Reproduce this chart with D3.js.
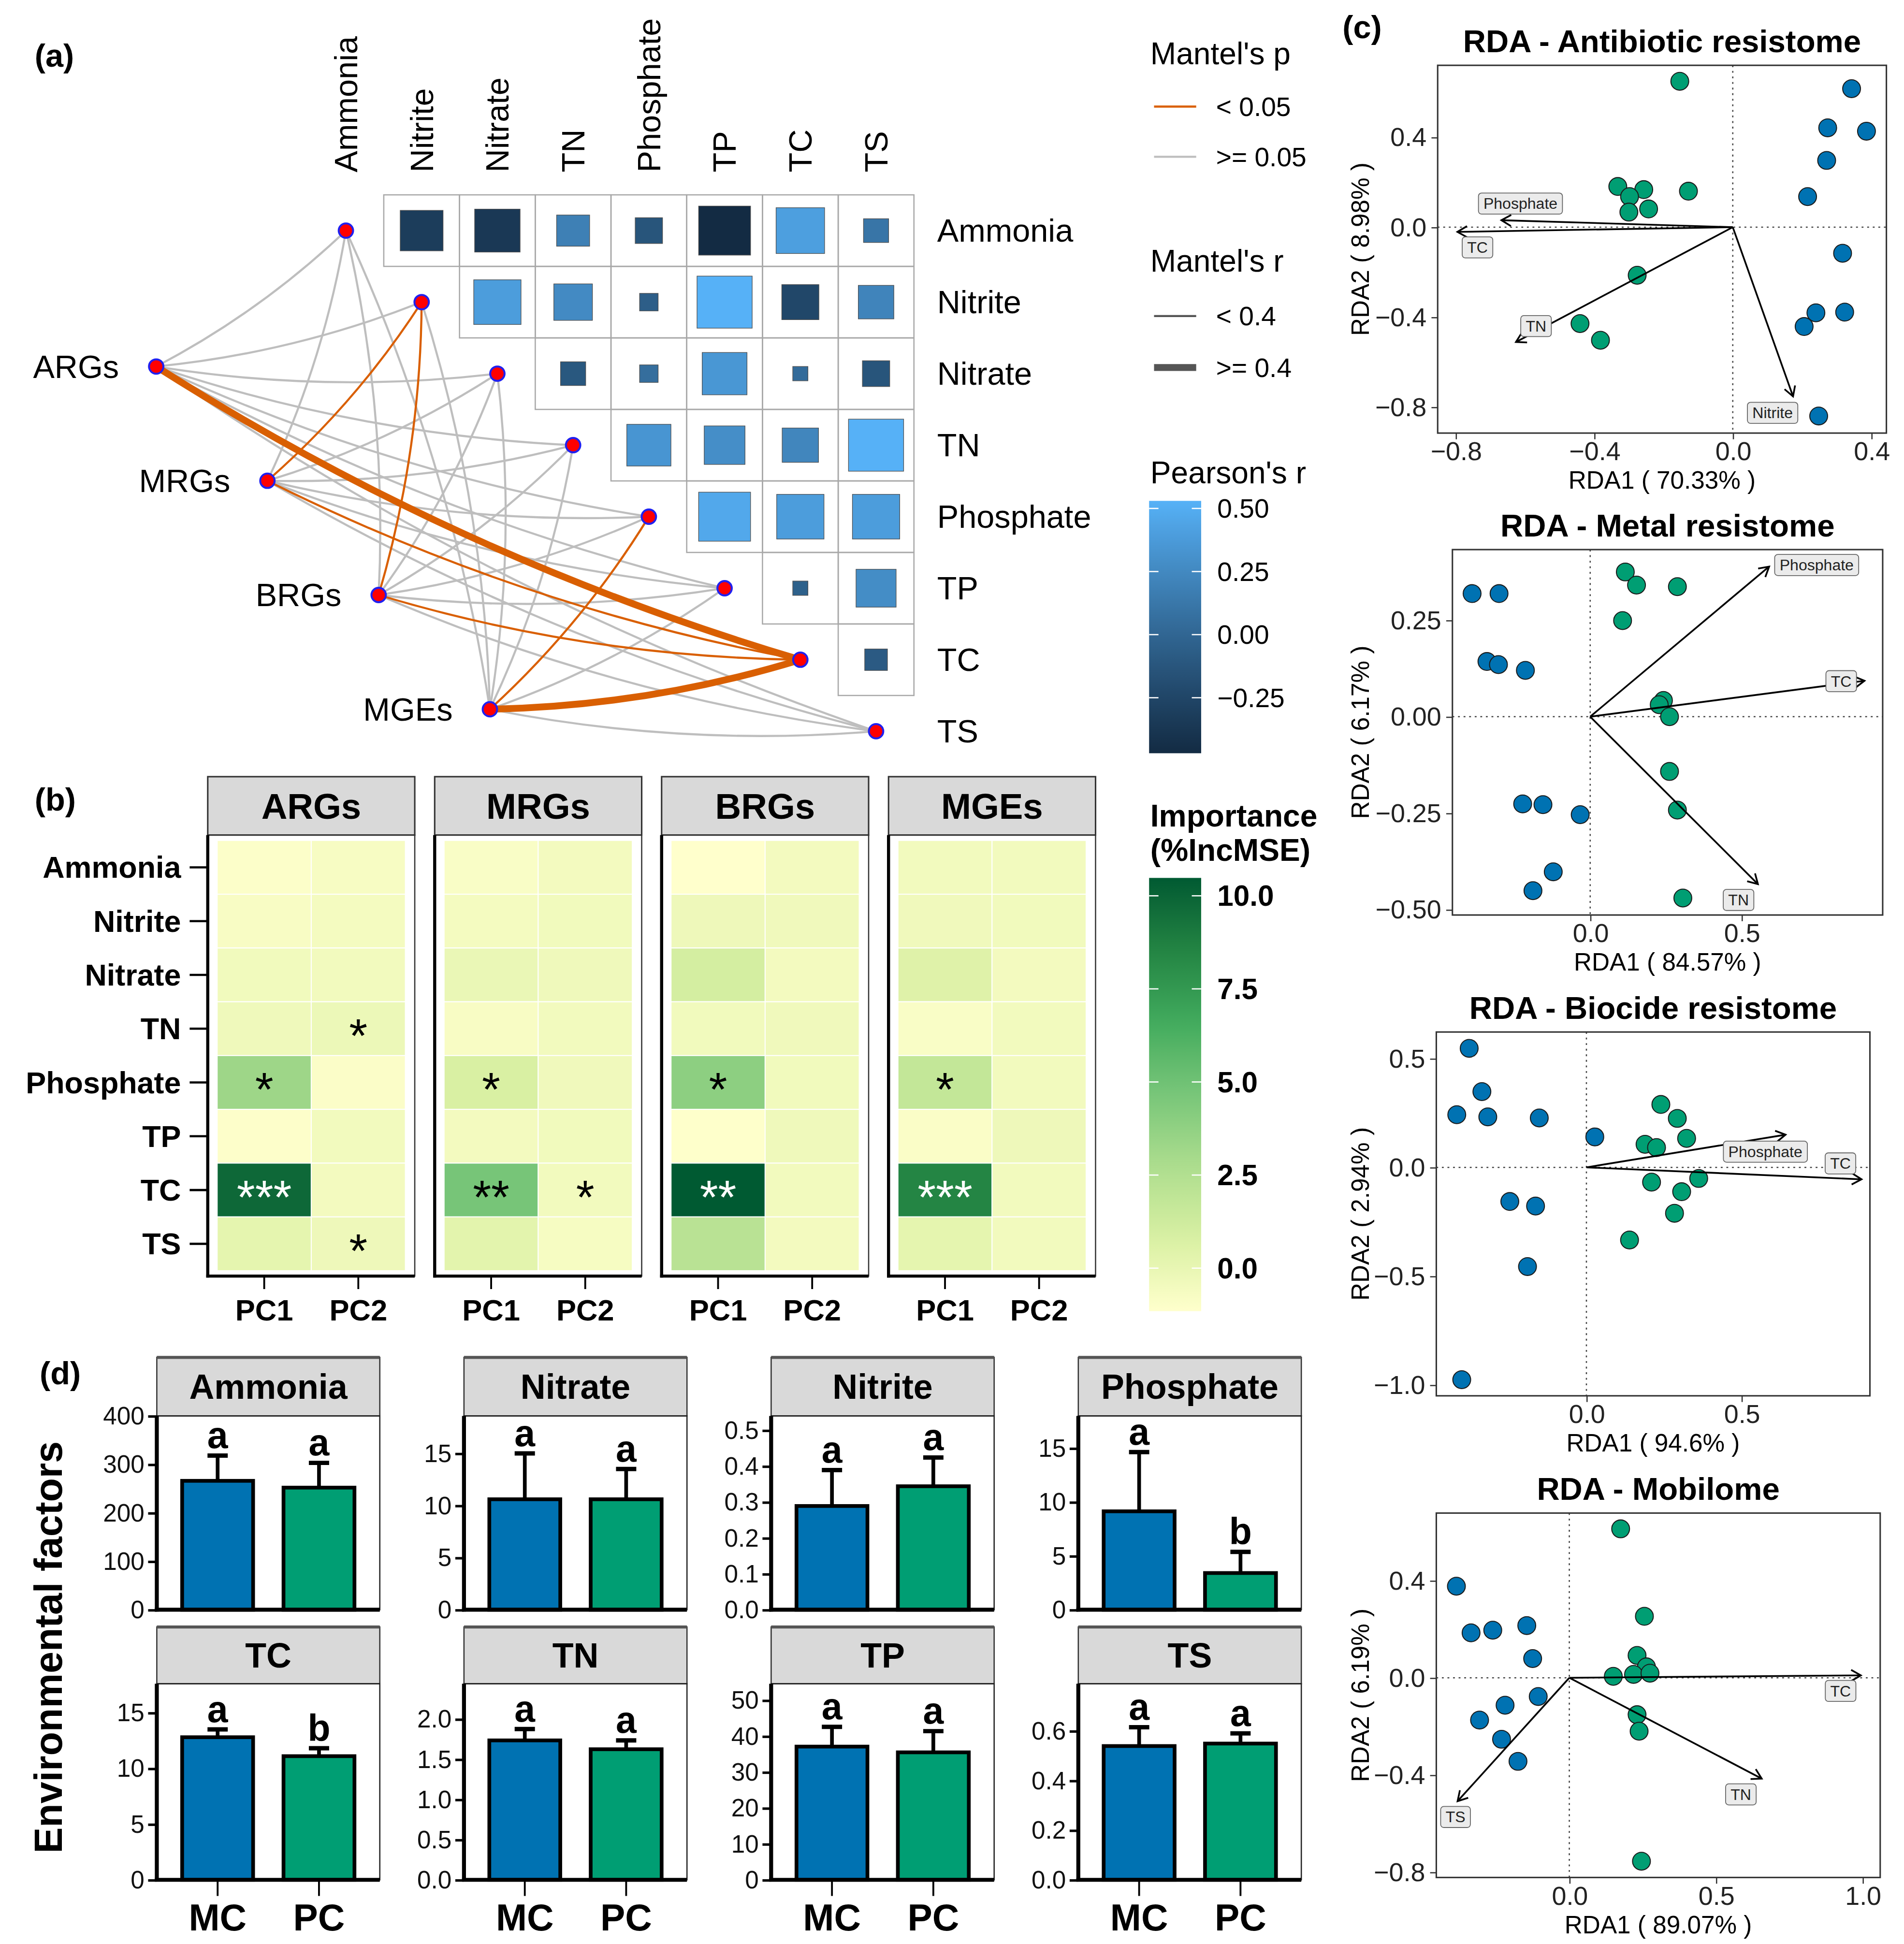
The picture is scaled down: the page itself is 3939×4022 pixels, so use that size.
<!DOCTYPE html>
<html>
<head>
<meta charset="utf-8">
<script src="https://cdn.jsdelivr.net/npm/d3@7"></script>
<style>
html, body { margin: 0; padding: 0; background: #fff; }
svg text { font-family: "Liberation Sans", Arial, Helvetica, sans-serif; }
</style>
</head>
<body>
<svg id="fig"></svg>
<script>
// ---------- data ----------
const envVars = ["Ammonia", "Nitrite", "Nitrate", "TN", "Phosphate", "TP", "TC", "TS"];

// Pearson's r, upper triangle (row i, columns i+1 .. 7)
const pearsonR = [
  [-0.32, -0.36, 0.19, -0.13, -0.47, 0.41, 0.11],
  [0.39, 0.26, -0.06, 0.53, -0.24, 0.22],
  [-0.11, 0.06, 0.35, 0.04, -0.13],
  [0.34, 0.29, 0.23, 0.53],
  [0.47, 0.39, 0.39],
  [-0.04, 0.28],
  [-0.09]
];
const pearsonTicks = [0.5, 0.25, 0, -0.25];

const groups = ["ARGs", "MRGs", "BRGs", "MGEs"];
const mantelR = [
  [0.12, 0.15, 0.10, 0.18, 0.25, 0.08, 0.52, 0.20],
  [0.10, 0.32, 0.14, 0.12, 0.22, 0.09, 0.35, 0.16],
  [0.08, 0.30, 0.20, 0.11, 0.26, 0.13, 0.33, 0.24],
  [0.09, 0.07, 0.12, 0.15, 0.31, 0.18, 0.55, 0.21]
];
const mantelP = [
  [0.41, 0.22, 0.35, 0.18, 0.09, 0.56, 0.001, 0.12],
  [0.52, 0.03, 0.28, 0.33, 0.07, 0.61, 0.01, 0.19],
  [0.63, 0.04, 0.11, 0.38, 0.06, 0.29, 0.02, 0.08],
  [0.57, 0.66, 0.31, 0.24, 0.04, 0.15, 0.001, 0.10]
];

// random forest importance (%IncMSE): [PC1 values, PC2 values] in envVars order
const pcs = ["PC1", "PC2"];
const impARGs = [[-1.0, -0.8, -0.45, -0.35, 3.3, -1.05, 9.8, 0.2], [-0.75, -0.6, -0.5, -0.2, -0.95, -0.5, -0.55, -0.3]];
const impMRGs = [[-0.85, -0.6, -0.1, -0.8, 0.8, -0.55, 4.7, 0.3], [-0.55, -0.45, -0.35, -0.5, -0.4, -0.45, -0.5, -0.7]];
const impBRGs = [[-1.15, -0.3, 1.0, -0.45, 3.9, -1.1, 10.48, 2.2], [-0.55, -0.4, -0.55, -0.4, -0.45, -0.35, -0.5, -0.55]];
const impMGEs = [[-0.5, -0.4, 0.5, -0.85, 1.75, -0.9, 8.5, 0.2], [-0.5, -0.45, -0.55, -0.5, -0.5, -0.3, -0.5, -0.5]];
const sigARGs = [["", "", "", "", "*", "", "***", ""], ["", "", "", "*", "", "", "", "*"]];
const sigMRGs = [["", "", "", "", "*", "", "**", ""], ["", "", "", "", "", "", "*", ""]];
const sigBRGs = [["", "", "", "", "*", "", "**", ""], ["", "", "", "", "", "", "", ""]];
const sigMGEs = [["", "", "", "", "*", "", "***", ""], ["", "", "", "", "", "", "", ""]];
const impTicks = [10, 7.5, 5, 2.5, 0];

// RDA
const rdaTitles = ["RDA - Antibiotic resistome", "RDA - Metal resistome", "RDA - Biocide resistome", "RDA - Mobilome"];
const rdaXLab = ["RDA1 ( 70.33% )", "RDA1 ( 84.57% )", "RDA1 ( 94.6% )", "RDA1 ( 89.07% )"];
const rdaYLab = ["RDA2 ( 8.98% )", "RDA2 ( 6.17% )", "RDA2 ( 2.94% )", "RDA2 ( 6.19% )"];
const rdaXDomain = [[-0.852, 0.4435], [-0.455, 0.966], [-0.484, 0.914], [-0.4535, 1.06]];
const rdaYDomain = [[-0.916, 0.72], [-0.514, 0.433], [-1.05, 0.622], [-0.822, 0.678]];
const rdaXTicks = [[-0.8, -0.4, 0, 0.4], [0, 0.5], [0, 0.5], [0, 0.5, 1]];
const rdaYTicks = [[-0.8, -0.4, 0, 0.4], [-0.5, -0.25, 0, 0.25], [-1, -0.5, 0, 0.5], [-0.8, -0.4, 0, 0.4]];
const rdaYFormat = [".1f", ".2f", ".1f", ".1f"];

const antibioticMC = [[0.343, 0.616], [0.274, 0.442], [0.386, 0.427], [0.271, 0.297], [0.216, 0.136], [0.317, -0.116], [0.240, -0.381], [0.323, -0.378], [0.206, -0.442], [0.248, -0.840]];
const antibioticPC = [[-0.153, 0.649], [-0.332, 0.181], [-0.257, 0.167], [-0.298, 0.136], [-0.243, 0.081], [-0.300, 0.067], [-0.128, 0.160], [-0.276, -0.214], [-0.441, -0.429], [-0.382, -0.503]];
const antibioticEnv = [["Phosphate", -0.668, 0.031, -0.613, 0.105], ["TC", -0.795, -0.021, -0.737, -0.090], ["TN", -0.626, -0.511, -0.568, -0.440], ["Nitrite", 0.174, -0.753, 0.115, -0.826]];

const metalMC = [[-0.390, 0.319], [-0.301, 0.319], [-0.341, 0.143], [-0.303, 0.135], [-0.214, 0.120], [-0.223, -0.226], [-0.156, -0.228], [-0.033, -0.254], [-0.122, -0.402], [-0.189, -0.451]];
const metalPC = [[0.116, 0.375], [0.153, 0.341], [0.288, 0.337], [0.107, 0.249], [0.242, 0.042], [0.228, 0.031], [0.262, 0.0], [0.262, -0.142], [0.288, -0.242], [0.306, -0.470]];
const metalEnv = [["Phosphate", 0.591, 0.389, 0.748, 0.393], ["TC", 0.906, 0.093, 0.829, 0.092], ["TN", 0.554, -0.434, 0.490, -0.475]];

const biocideMC = [[-0.378, 0.547], [-0.337, 0.348], [-0.418, 0.242], [-0.318, 0.232], [-0.152, 0.227], [0.027, 0.140], [-0.247, -0.157], [-0.164, -0.178], [-0.190, -0.456], [-0.402, -0.976]];
const biocidePC = [[0.240, 0.289], [0.293, 0.225], [0.323, 0.133], [0.189, 0.106], [0.226, 0.091], [0.362, -0.051], [0.210, -0.068], [0.307, -0.112], [0.284, -0.211], [0.139, -0.334]];
const biocideEnv = [["Phosphate", 0.642, 0.150, 0.577, 0.072], ["TC", 0.887, -0.055, 0.819, 0.018]];

const mobilomeMC = [[-0.385, 0.377], [-0.335, 0.185], [-0.261, 0.196], [-0.145, 0.215], [-0.125, 0.079], [-0.106, -0.077], [-0.219, -0.113], [-0.306, -0.174], [-0.231, -0.253], [-0.175, -0.344]];
const mobilomePC = [[0.175, 0.613], [0.256, 0.253], [0.231, 0.092], [0.263, 0.045], [0.150, 0.006], [0.219, 0.014], [0.275, 0.019], [0.231, -0.152], [0.238, -0.220], [0.246, -0.755]];
const mobilomeEnv = [["TC", 0.994, 0.010, 0.925, -0.054], ["TN", 0.656, -0.415, 0.585, -0.480], ["TS", -0.381, -0.508, -0.388, -0.573]];

// bar plots (d)
const treatments = ["MC", "PC"];
const barPanels = ["Ammonia", "Nitrate", "Nitrite", "Phosphate", "TC", "TN", "TP", "TS"];
const meanMC = [266, 10.6, 0.289, 9.14, 12.8, 1.735, 37.1, 0.539];
const sdMC = [52, 4.4, 0.100, 5.5, 0.70, 0.142, 5.5, 0.076];
const meanPC = [252, 10.6, 0.344, 3.41, 11.1, 1.625, 35.5, 0.549];
const sdPC = [51, 2.9, 0.080, 1.96, 0.71, 0.110, 5.9, 0.041];
const letterMC = ["a", "a", "a", "a", "a", "a", "a", "a"];
const letterPC = ["a", "a", "a", "b", "b", "a", "a", "a"];
const barYMax = [400, 18.6, 0.54, 18.0, 17.6, 2.44, 54.6, 0.79];
const barTickLabels = [
  ["0", "100", "200", "300", "400"],
  ["0", "5", "10", "15"],
  ["0.0", "0.1", "0.2", "0.3", "0.4", "0.5"],
  ["0", "5", "10", "15"],
  ["0", "5", "10", "15"],
  ["0.0", "0.5", "1.0", "1.5", "2.0"],
  ["0", "10", "20", "30", "40", "50"],
  ["0.0", "0.2", "0.4", "0.6"]
];

// ---------- setup ----------
const W = 3939, H = 4022, K = W / 1536, VH = H / K;
const svg = d3.select('#fig').attr('width', W).attr('height', H).attr('viewBox', `0 0 1536 ${VH}`);
svg.append('rect').attr('width', 1536).attr('height', VH).attr('fill', '#fff');
const defs = svg.append('defs');
const colMC = '#0072B2', colPC = '#009E73';

function label(x, y, txt, size, opts = {}) {
  const t = svg.append('text').attr('x', x).attr('y', y).attr('font-size', size).text(txt);
  if (opts.bold) t.attr('font-weight', 'bold');
  if (opts.anchor) t.attr('text-anchor', opts.anchor);
  if (opts.mid) t.attr('dy', '0.35em');
  if (opts.fill) t.attr('fill', opts.fill);
  return t;
}

function colorBar(id, scale, dom, x, w, yScale, ticks, fmt, bold) {
  const lg = defs.append('linearGradient').attr('id', id).attr('x1', 0).attr('x2', 0).attr('y1', 1).attr('y2', 0);
  d3.range(0, 1.0001, 0.05).forEach(t => lg.append('stop').attr('offset', t).attr('stop-color', scale(dom[0] + t * (dom[1] - dom[0]))));
  svg.append('rect').attr('x', x).attr('y', yScale(dom[1])).attr('width', w).attr('height', yScale(dom[0]) - yScale(dom[1])).attr('fill', `url(#${id})`);
  ticks.forEach(v => {
    const y = yScale(v);
    svg.append('line').attr('x1', x).attr('x2', x + w * 0.18).attr('y1', y).attr('y2', y).attr('stroke', '#fff').attr('stroke-width', 1);
    svg.append('line').attr('x1', x + w * 0.82).attr('x2', x + w).attr('y1', y).attr('y2', y).attr('stroke', '#fff').attr('stroke-width', 1);
    label(x + w + 13, y, fmt(v), bold ? 23.5 : 21.5, { mid: true, bold });
  });
}

// panel tags
label(28, 54, "(a)", 26, { bold: true });
label(28, 654, "(b)", 26, { bold: true });
label(1083, 31, "(c)", 26, { bold: true });
label(32, 1117, "(d)", 26, { bold: true });

// ---------- (a) Mantel network + correlation matrix ----------
const xA = d3.scaleBand().domain(envVars).range([248.5, 737.3]);
const yA = d3.scaleBand().domain(envVars).range([157.2, 618.8]);
const bw = xA.bandwidth(), bh = yA.bandwidth();
const rExt = d3.extent(pearsonR.flat());
const colR = d3.scaleLinear().domain(rExt).range(['#132B43', '#56B1F7']).interpolate(d3.interpolateLab);

pearsonR.forEach((row, i) => row.forEach((r, k) => {
  const j = i + 1 + k;
  const cx = xA(envVars[j]), cy = yA(envVars[i]);
  svg.append('rect').attr('x', cx).attr('y', cy).attr('width', bw).attr('height', bh)
    .attr('fill', 'none').attr('stroke', '#a8a8a8').attr('stroke-width', 1);
  const f = Math.sqrt(Math.abs(r));
  svg.append('rect').attr('x', cx + bw * (1 - f) / 2).attr('y', cy + bh * (1 - f) / 2)
    .attr('width', bw * f).attr('height', bh * f)
    .attr('fill', colR(r)).attr('stroke', '#4d4d4d').attr('stroke-width', 0.5);
}));

envVars.forEach(v => {
  svg.append('text').attr('transform', `translate(${xA(v) + bw / 2},139) rotate(-90)`)
    .attr('dy', '0.35em').attr('font-size', 26).text(v);
  label(756, yA(v) + bh / 2, v, 26, { mid: true });
});

const gx = d3.scalePoint().domain(groups).range([126, 395.2]);
const gy = d3.scalePoint().domain(groups).range([295.7, 572.2]);

const edges = [];
groups.forEach((g, gi) => envVars.forEach((e, ei) => edges.push({ g, e, r: mantelR[gi][ei], p: mantelP[gi][ei] })));
edges.sort((a, b) => (a.p < 0.05) - (b.p < 0.05));
edges.forEach(d => {
  const sx = gx(d.g), sy = gy(d.g), tx = xA(d.e) + bw / 2, ty = yA(d.e) + bh / 2;
  const c = 0.07, qx = (sx + tx) / 2 - c * (ty - sy), qy = (sy + ty) / 2 + c * (tx - sx);
  svg.append('path').attr('d', `M${sx},${sy}Q${qx},${qy} ${tx},${ty}`)
    .attr('fill', 'none').attr('stroke', d.p < 0.05 ? '#D95F02' : '#BEBEBE')
    .attr('stroke-width', d.r >= 0.4 ? 5.5 : 1.7);
});

envVars.forEach(v => {
  svg.append('circle').attr('cx', xA(v) + bw / 2).attr('cy', yA(v) + bh / 2).attr('r', 5.8)
    .attr('fill', '#FF0000').attr('stroke', '#2020F0').attr('stroke-width', 1.6);
});
groups.forEach(g => {
  svg.append('circle').attr('cx', gx(g)).attr('cy', gy(g)).attr('r', 5.8)
    .attr('fill', '#FF0000').attr('stroke', '#2020F0').attr('stroke-width', 1.6);
  label(gx(g) - 30, gy(g), g, 26, { mid: true, anchor: 'end' });
});

// legends (a)
label(928, 52, "Mantel's p", 25);
svg.append('line').attr('x1', 931).attr('x2', 965).attr('y1', 86).attr('y2', 86).attr('stroke', '#D95F02').attr('stroke-width', 1.7);
label(981, 86, "< 0.05", 21.5, { mid: true });
svg.append('line').attr('x1', 931).attr('x2', 965).attr('y1', 126.5).attr('y2', 126.5).attr('stroke', '#BEBEBE').attr('stroke-width', 1.7);
label(981, 126.5, ">= 0.05", 21.5, { mid: true });
label(928, 219, "Mantel's r", 25);
svg.append('line').attr('x1', 931).attr('x2', 965).attr('y1', 255).attr('y2', 255).attr('stroke', '#555').attr('stroke-width', 1.7);
label(981, 255, "< 0.4", 21.5, { mid: true });
svg.append('line').attr('x1', 931).attr('x2', 965).attr('y1', 296.5).attr('y2', 296.5).attr('stroke', '#555').attr('stroke-width', 5.5);
label(981, 296.5, ">= 0.4", 21.5, { mid: true });
label(928, 390, "Pearson's r", 25);
const yPear = d3.scaleLinear().domain([0, 0.5]).range([512, 410.2]);
colorBar('gradR', colR, rExt, 927, 42, yPear, pearsonTicks, d3.format(".2f"), false);

// ---------- (b) random forest heatmaps ----------
const impData = [impARGs, impMRGs, impBRGs, impMGEs];
const sigData = [sigARGs, sigMRGs, sigBRGs, sigMGEs];
const impDom = [-1.155, 10.48];
const ylgn = ["#FFFFCC", "#D9F0A3", "#ADDD8E", "#78C679", "#41AB5D", "#238443", "#005A32"];
const colImp = d3.scaleLinear().domain(d3.range(7).map(i => impDom[0] + i * (impDom[1] - impDom[0]) / 6))
  .range(ylgn).interpolate(d3.interpolateLab);

const yB = d3.scaleBand().domain(envVars).range([673.7, 1029.5]).paddingOuter(0.1);
groups.forEach((g, gi) => {
  const x0 = 167.6 + 183.07 * gi, x1 = x0 + 167;
  const xB = d3.scaleBand().domain(pcs).range([x0, x1]).paddingOuter(0.1);
  svg.append('rect').attr('x', x0).attr('y', 626.6).attr('width', x1 - x0).attr('height', 47.1)
    .attr('fill', '#D9D9D9').attr('stroke', '#333').attr('stroke-width', 1.2);
  label((x0 + x1) / 2, 650.5, g, 29, { bold: true, anchor: 'middle', mid: true });
  pcs.forEach((pc, pi) => envVars.forEach((e, ei) => {
    const v = impData[gi][pi][ei];
    svg.append('rect').attr('x', xB(pc)).attr('y', yB(e)).attr('width', xB.bandwidth()).attr('height', yB.bandwidth())
      .attr('fill', colImp(v)).attr('stroke', '#fff').attr('stroke-width', 0.8);
    const s = sigData[gi][pi][ei];
    if (s) {
      svg.append('text').attr('x', xB(pc) + xB.bandwidth() / 2).attr('y', yB(e) + yB.bandwidth() / 2 + 19)
        .attr('text-anchor', 'middle').attr('font-size', 38)
        .attr('fill', v > 7 ? '#fff' : '#000').text(s);
    }
  }));
  svg.append('rect').attr('x', x0).attr('y', 673.7).attr('width', x1 - x0).attr('height', 1029.5 - 673.7)
    .attr('fill', 'none').attr('stroke', '#333').attr('stroke-width', 1);
  svg.append('line').attr('x1', x0).attr('x2', x0).attr('y1', 673.7).attr('y2', 1030.7).attr('stroke', '#000').attr('stroke-width', 2.5);
  svg.append('line').attr('x1', x0 - 1.2).attr('x2', x1).attr('y1', 1029.5).attr('y2', 1029.5).attr('stroke', '#000').attr('stroke-width', 2.5);
  pcs.forEach(pc => {
    const cx = xB(pc) + xB.bandwidth() / 2;
    svg.append('line').attr('x1', cx).attr('x2', cx).attr('y1', 1029.5).attr('y2', 1040).attr('stroke', '#000').attr('stroke-width', 1.5);
    label(cx, 1057, pc, 24, { bold: true, anchor: 'middle', mid: true });
  });
});
envVars.forEach(e => {
  const cy = yB(e) + yB.bandwidth() / 2;
  svg.append('line').attr('x1', 153).attr('x2', 167.6).attr('y1', cy).attr('y2', cy).attr('stroke', '#000').attr('stroke-width', 1.8);
  label(146, cy, e, 24.5, { bold: true, anchor: 'end', mid: true });
});

label(928, 667, "Importance", 25, { bold: true });
label(928, 694.5, "(%IncMSE)", 25, { bold: true });
const yImp = d3.scaleLinear().domain([0, 10]).range([1023.1, 722.7]);
colorBar('gradImp', colImp, impDom, 927, 42, yImp, impTicks, d3.format(".1f"), true);

// ---------- (c) RDA ----------
const rdaBox = [[1159.8, 1521.8, 52.7, 349.4], [1171.7, 1518.8, 443.4, 738.2], [1158.7, 1508.5, 832.6, 1126.1], [1158.7, 1516.8, 1220.7, 1514.7]];
const rdaMC = [antibioticMC, metalMC, biocideMC, mobilomeMC];
const rdaPC = [antibioticPC, metalPC, biocidePC, mobilomePC];
const rdaEnv = [antibioticEnv, metalEnv, biocideEnv, mobilomeEnv];

function drawRDA(k) {
  const [x0, x1, y0, y1] = rdaBox[k];
  const xs = d3.scaleLinear().domain(rdaXDomain[k]).range([x0, x1]);
  const ys = d3.scaleLinear().domain(rdaYDomain[k]).range([y1, y0]);
  const g = svg.append('g');

  g.append('text').attr('x', (x0 + x1) / 2).attr('y', y0 - 19.5).attr('dy', '0.35em').attr('text-anchor', 'middle')
    .attr('font-weight', 'bold').attr('font-size', 25.5).text(rdaTitles[k]);

  g.append('line').attr('x1', xs(0)).attr('x2', xs(0)).attr('y1', y0).attr('y2', y1)
    .attr('stroke', '#444').attr('stroke-width', 1).attr('stroke-dasharray', '1.5,3');
  g.append('line').attr('x1', x0).attr('x2', x1).attr('y1', ys(0)).attr('y2', ys(0))
    .attr('stroke', '#444').attr('stroke-width', 1).attr('stroke-dasharray', '1.5,3');

  [[rdaMC[k], colMC], [rdaPC[k], colPC]].forEach(([pts, col]) => {
    pts.forEach(p => g.append('circle').attr('cx', xs(p[0])).attr('cy', ys(p[1])).attr('r', 7.2)
      .attr('fill', col).attr('stroke', '#1a1a1a').attr('stroke-width', 0.8));
  });

  const ox = xs(0), oy = ys(0);
  rdaEnv[k].forEach(([name, ax, ay]) => {
    const tx = xs(ax), ty = ys(ay);
    g.append('line').attr('x1', ox).attr('y1', oy).attr('x2', tx).attr('y2', ty).attr('stroke', '#000').attr('stroke-width', 1.4);
    const ang = Math.atan2(ty - oy, tx - ox), L = 9, a = Math.PI / 6;
    g.append('path').attr('d', `M${tx - L * Math.cos(ang - a)},${ty - L * Math.sin(ang - a)}L${tx},${ty}L${tx - L * Math.cos(ang + a)},${ty - L * Math.sin(ang + a)}`)
      .attr('fill', 'none').attr('stroke', '#000').attr('stroke-width', 1.4);
  });
  rdaEnv[k].forEach(([name, ax, ay, lx, ly]) => {
    const cx = xs(lx), cy = ys(ly);
    const box = g.append('rect');
    const t = g.append('text').attr('x', cx).attr('y', cy).attr('dy', '0.35em').attr('text-anchor', 'middle')
      .attr('font-size', 12.5).attr('fill', '#222').text(name);
    const w = t.node().getComputedTextLength();
    box.attr('x', cx - w / 2 - 4).attr('y', cy - 8.5).attr('width', w + 8).attr('height', 17).attr('rx', 2.5)
      .attr('fill', '#EBEBEB').attr('stroke', '#666').attr('stroke-width', 0.7);
  });

  g.append('rect').attr('x', x0).attr('y', y0).attr('width', x1 - x0).attr('height', y1 - y0)
    .attr('fill', 'none').attr('stroke', '#333').attr('stroke-width', 1.2);

  const ax = g.append('g').attr('transform', `translate(0,${y1})`)
    .call(d3.axisBottom(xs).tickValues(rdaXTicks[k]).tickFormat(d3.format(".1f")).tickSize(5).tickPadding(2));
  const ay = g.append('g').attr('transform', `translate(${x0},0)`)
    .call(d3.axisLeft(ys).tickValues(rdaYTicks[k]).tickFormat(d3.format(rdaYFormat[k])).tickSize(5).tickPadding(4));
  [ax, ay].forEach(a => {
    a.select('.domain').remove();
    a.selectAll('line').attr('stroke', '#333').attr('stroke-width', 1);
    a.selectAll('text').attr('font-size', 21).attr('fill', '#222').attr('font-family', '"Liberation Sans", Arial, sans-serif');
  });

  g.append('text').attr('x', (x0 + x1) / 2).attr('y', y1 + 45).attr('text-anchor', 'middle').attr('font-size', 20).text(rdaXLab[k]);
  g.append('text').attr('transform', `translate(1097.5,${(y0 + y1) / 2}) rotate(-90)`).attr('dy', '0.35em')
    .attr('text-anchor', 'middle').attr('font-size', 20).text(rdaYLab[k]);
}
[0, 1, 2, 3].forEach(drawRDA);

// ---------- (d) bar charts ----------
function drawBar(k) {
  const col = k % 4, row = Math.floor(k / 4);
  const x0 = 126.5 + 247.8 * col, x1 = x0 + 179.9;
  const sTop = row === 0 ? 1095.1 : 1312.6;
  const pTop = row === 0 ? 1142.3 : 1358.4;
  const pBot = row === 0 ? 1298.7 : 1516.6;
  const xs = d3.scaleBand().domain(treatments).range([x0, x1]).paddingOuter(0.1);
  const ys = d3.scaleLinear().domain([0, barYMax[k]]).range([pBot, pTop]);
  const step = xs.step();
  const g = svg.append('g');

  g.append('rect').attr('x', x0).attr('y', sTop).attr('width', x1 - x0).attr('height', pTop - sTop)
    .attr('fill', '#D9D9D9').attr('stroke', '#333').attr('stroke-width', 1);
  g.append('line').attr('x1', x0).attr('x2', x1).attr('y1', sTop).attr('y2', sTop).attr('stroke', '#555').attr('stroke-width', 2.5);
  g.append('text').attr('x', (x0 + x1) / 2).attr('y', (sTop + pTop) / 2).attr('dy', '0.35em').attr('text-anchor', 'middle')
    .attr('font-weight', 'bold').attr('font-size', 28).text(barPanels[k]);

  g.append('rect').attr('x', x0).attr('y', pTop).attr('width', x1 - x0).attr('height', pBot - pTop)
    .attr('fill', 'none').attr('stroke', '#222').attr('stroke-width', 1);

  const rows = [
    { t: "MC", m: meanMC[k], s: sdMC[k], l: letterMC[k], c: colMC },
    { t: "PC", m: meanPC[k], s: sdPC[k], l: letterPC[k], c: colPC }
  ];
  rows.forEach(d => {
    const cx = xs(d.t) + xs.bandwidth() / 2;
    const yTop = ys(d.m + d.s);
    g.append('line').attr('x1', cx).attr('x2', cx).attr('y1', ys(d.m)).attr('y2', yTop).attr('stroke', '#000').attr('stroke-width', 3);
    g.append('line').attr('x1', cx - step * 0.1).attr('x2', cx + step * 0.1).attr('y1', yTop).attr('y2', yTop).attr('stroke', '#000').attr('stroke-width', 3.5);
    g.append('rect').attr('x', cx - step * 0.35).attr('y', ys(d.m)).attr('width', step * 0.7).attr('height', pBot - ys(d.m))
      .attr('fill', d.c).attr('stroke', '#000').attr('stroke-width', 3);
    g.append('text').attr('x', cx).attr('y', yTop - 6).attr('text-anchor', 'middle')
      .attr('font-weight', 'bold').attr('font-size', 30).text(d.l);
  });

  g.append('line').attr('x1', x0).attr('x2', x0).attr('y1', pTop).attr('y2', pBot + 1.5).attr('stroke', '#000').attr('stroke-width', 3.2);
  g.append('line').attr('x1', x0 - 1.6).attr('x2', x1).attr('y1', pBot).attr('y2', pBot).attr('stroke', '#000').attr('stroke-width', 3.2);

  const ay = g.append('g').attr('transform', `translate(${x0},0)`)
    .call(d3.axisLeft(ys).tickValues(barTickLabels[k].map(Number)).tickFormat((v, i) => barTickLabels[k][i]).tickSize(7).tickPadding(3));
  ay.select('.domain').remove();
  ay.selectAll('line').attr('stroke', '#000').attr('stroke-width', 2);
  ay.selectAll('text').attr('font-size', 20).attr('fill', '#111').attr('font-family', '"Liberation Sans", Arial, sans-serif');

  if (row === 1) {
    treatments.forEach(t => {
      const cx = xs(t) + xs.bandwidth() / 2;
      g.append('line').attr('x1', cx).attr('x2', cx).attr('y1', pBot).attr('y2', pBot + 13).attr('stroke', '#000').attr('stroke-width', 1.5);
      g.append('text').attr('x', cx).attr('y', 1547).attr('dy', '0.35em').attr('text-anchor', 'middle')
        .attr('font-weight', 'bold').attr('font-size', 30).text(t);
    });
  }
}
barPanels.forEach((p, k) => drawBar(k));

svg.append('text').attr('transform', 'translate(39,1329) rotate(-90)').attr('dy', '0.35em').attr('text-anchor', 'middle')
  .attr('font-weight', 'bold').attr('font-size', 31.5).text("Environmental factors");
</script>
</body>
</html>
